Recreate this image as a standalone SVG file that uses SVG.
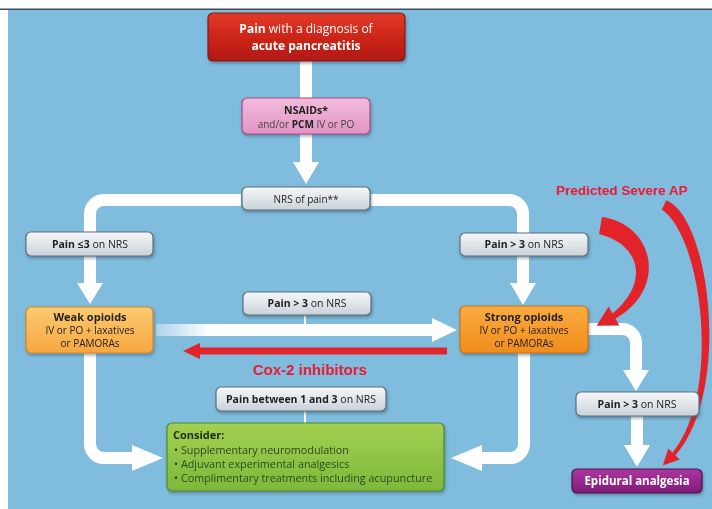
<svg xmlns="http://www.w3.org/2000/svg" width="712" height="509" viewBox="0 0 712 509">
<defs>
<style>
.t{font-family:"Open Sans","Noto Sans",sans-serif;fill:#222;text-anchor:middle}
.b{font-weight:bold}
.w{fill:#fff}
.red{font-family:"Liberation Sans",Arial,sans-serif;font-weight:bold;fill:#e3203a}
.gray{fill:url(#gGray);stroke:#5f707a;stroke-width:1.2}
.con{stroke:#fff;stroke-width:12;fill:none}
.head{fill:#fff}
.thin{stroke:#fff;stroke-width:2;fill:none}
</style>
<linearGradient id="gGray" x1="0" y1="0" x2="0" y2="1"><stop offset="0" stop-color="#f6f8fa"/><stop offset="1" stop-color="#c9d2d8"/></linearGradient>
<linearGradient id="gRed" x1="0" y1="0" x2="0" y2="1"><stop offset="0" stop-color="#e23a28"/><stop offset="0.6" stop-color="#c82216"/><stop offset="1" stop-color="#b01a12"/></linearGradient>
<linearGradient id="gPink" x1="0" y1="0" x2="0" y2="1"><stop offset="0" stop-color="#f2bcdc"/><stop offset="1" stop-color="#e294c4"/></linearGradient>
<linearGradient id="gWeak" x1="0" y1="0" x2="0" y2="1"><stop offset="0" stop-color="#fccb70"/><stop offset="1" stop-color="#f6a640"/></linearGradient>
<linearGradient id="gStrong" x1="0" y1="0" x2="0" y2="1"><stop offset="0" stop-color="#fbab40"/><stop offset="1" stop-color="#f08c1c"/></linearGradient>
<linearGradient id="gGreen" x1="0" y1="0" x2="0" y2="1"><stop offset="0" stop-color="#a2d052"/><stop offset="1" stop-color="#7eb83a"/></linearGradient>
<linearGradient id="gPurple" x1="0" y1="0" x2="0" y2="1"><stop offset="0" stop-color="#ac36a0"/><stop offset="1" stop-color="#801c7a"/></linearGradient>
<linearGradient id="fadeL" gradientUnits="userSpaceOnUse" x1="156" y1="0" x2="210" y2="0"><stop offset="0" stop-color="#fff" stop-opacity="0.35"/><stop offset="1" stop-color="#fff"/></linearGradient>
<filter id="sh" x="-10%" y="-10%" width="120%" height="130%"><feDropShadow dx="1" dy="2" stdDeviation="1.5" flood-color="#2a4a60" flood-opacity="0.45"/></filter>
</defs>
<rect x="0" y="0" width="712" height="509" fill="#fff"/>
<rect x="8" y="10" width="704" height="499" fill="#7fbcde"/>
<rect x="0" y="8.5" width="712" height="1.5" fill="#3d4d58"/>

<g id="connectors">
  <path class="con" d="M306,61 V99"/>
  <path class="con" d="M306,134 V164"/>
  <polygon class="head" points="293,162 319,162 306,184"/>
  <path class="con" d="M241,200 H104 A14,14 0 0 0 90,214 V233"/>
  <path class="con" d="M371,200 H509 A14,14 0 0 1 523,214 V233"/>
  <path class="con" d="M90,256 V285"/>
  <polygon class="head" points="77,283 103,283 90,304"/>
  <path class="con" d="M523,256 V285"/>
  <polygon class="head" points="510,283 536,283 523,305"/>
  <path d="M156,330 H434" stroke="url(#fadeL)" stroke-width="12" fill="none"/>
  <polygon class="head" points="432,318 432,342 457,330"/>
  <path class="thin" d="M305,315 V325"/>
  <path d="M447,351 H198" stroke="#e2232a" stroke-width="7" fill="none"/>
  <polygon points="200,343 200,359 183,351" fill="#e2232a"/>
  <path class="con" d="M90,353 V444 A14,14 0 0 0 104,458 H134"/>
  <polygon class="head" points="132,445 132,471 163,458"/>
  <path class="con" d="M524,353 V444 A14,14 0 0 1 510,458 H480"/>
  <polygon class="head" points="482,445 482,471 451,458"/>
  <path class="thin" d="M305,411 V423"/>
  <path class="con" d="M588,329 H622 A14,14 0 0 1 636,343 V372"/>
  <polygon class="head" points="623,370 649,370 636,391"/>
  <path class="con" d="M637,416 V447"/>
  <polygon class="head" points="624,445 650,445 637,467"/>
  <path d="M602,217 C656,225 667,290 615.5,318.6 L619.4,325.6 L596.6,325.8 L608.6,306.4 L612.5,313.4 C649,284 642,245 599,234 Z" fill="#e2232a"/>
  <path d="M666.2,200.5 C710,216 732,392 675.4,455.4 L679.7,459.6 L662.8,465.4 L668.3,448.4 L672.6,452.6 C722,392 702,236 661.8,209.5 Z" fill="#e2232a"/>
</g>

<g id="pain-diagnosis" filter="url(#sh)">
  <rect x="208" y="13" width="197" height="48" rx="5" fill="url(#gRed)" stroke="#861810" stroke-width="1.2"/>
  <text class="t w" x="306" y="33" font-size="12"><tspan class="b">Pain</tspan> with a diagnosis of</text>
  <text class="t w b" x="306" y="50" font-size="12">acute pancreatitis</text>
</g>
<g id="nsaids" filter="url(#sh)">
  <rect x="242" y="98" width="128" height="36" rx="5" fill="url(#gPink)" stroke="#a84a84" stroke-width="1.2"/>
  <text class="t b" x="306" y="114" font-size="10.5">NSAIDs*</text>
  <text class="t" x="306" y="128" font-size="10"><tspan fill="#444">and/or </tspan><tspan class="b">PCM</tspan><tspan fill="#444"> IV or PO</tspan></text>
</g>
<g id="nrs" filter="url(#sh)">
  <rect class="gray" x="242" y="187" width="128" height="23" rx="5"/>
  <text class="t" x="306" y="203" font-size="10" fill="#333">NRS of pain**</text>
</g>
<g id="pain-le3" filter="url(#sh)">
  <rect class="gray" x="26" y="232" width="127" height="24" rx="5"/>
  <text class="t" x="90" y="248" font-size="10.5"><tspan class="b">Pain ≤3</tspan> on NRS</text>
</g>
<g id="pain-gt3-right" filter="url(#sh)">
  <rect class="gray" x="460" y="233" width="128" height="23" rx="5"/>
  <text class="t" x="524" y="248" font-size="10.5"><tspan class="b">Pain &gt; 3</tspan> on NRS</text>
</g>
<g id="weak-opioids" filter="url(#sh)">
  <rect x="26" y="307" width="127" height="46" rx="5" fill="url(#gWeak)" stroke="#d08a2a" stroke-width="1.2"/>
  <text class="t b" x="90" y="321" font-size="11" fill="#2a1a10">Weak opioids</text>
  <text class="t" x="90" y="334" font-size="10" fill="#6a4a2a">IV or PO + laxatives</text>
  <text class="t" x="90" y="347" font-size="10" fill="#6a4a2a">or PAMORAs</text>
</g>
<g id="pain-gt3-middle" filter="url(#sh)">
  <rect class="gray" x="243" y="292" width="128" height="23" rx="5"/>
  <text class="t" x="307" y="307" font-size="10.5"><tspan class="b">Pain &gt; 3</tspan> on NRS</text>
</g>
<g id="strong-opioids" filter="url(#sh)">
  <rect x="460" y="306" width="128" height="47" rx="5" fill="url(#gStrong)" stroke="#c87414" stroke-width="1.2"/>
  <text class="t b" x="524" y="321" font-size="11" fill="#2a1a10">Strong opioids</text>
  <text class="t" x="524" y="334" font-size="10" fill="#6a4020">IV or PO + laxatives</text>
  <text class="t" x="524" y="347" font-size="10" fill="#6a4020">or PAMORAs</text>
</g>
<g id="cox2">
  <text class="red" x="310" y="375" font-size="15" text-anchor="middle">Cox-2 inhibitors</text>
</g>
<g id="predicted-severe">
  <text class="red" x="622" y="195" font-size="13.5" text-anchor="middle">Predicted Severe AP</text>
</g>
<g id="pain-between" filter="url(#sh)">
  <rect class="gray" x="216" y="387" width="170" height="24" rx="5"/>
  <text class="t" x="301" y="403" font-size="10.5"><tspan class="b">Pain between 1 and 3</tspan> on NRS</text>
</g>
<g id="consider" filter="url(#sh)">
  <rect x="167" y="423" width="277" height="68" rx="5" fill="url(#gGreen)" stroke="#508a24" stroke-width="1.2"/>
  <text x="173" y="439" font-size="11" font-family="Open Sans, Noto Sans, sans-serif" font-weight="bold" fill="#1e2a10">Consider:</text>
  <g font-family="Open Sans, Noto Sans, sans-serif" font-size="10.8" fill="#2a3a1a">
    <text x="174" y="454">• <tspan fill="#2a4a20">Supplementary neuromodulation</tspan></text>
    <text x="174" y="468">• <tspan fill="#2a4a20">Adjuvant experimental analgesics</tspan></text>
    <text x="174" y="482">• <tspan fill="#2a4a20">Complimentary treatments including acupuncture</tspan></text>
  </g>
</g>
<g id="pain-gt3-bottom" filter="url(#sh)">
  <rect class="gray" x="576" y="392" width="123" height="24" rx="5"/>
  <text class="t" x="637" y="408" font-size="10.5"><tspan class="b">Pain &gt; 3</tspan> on NRS</text>
</g>
<g id="epidural" filter="url(#sh)">
  <rect x="572" y="469" width="130" height="24" rx="5" fill="url(#gPurple)" stroke="#4e104a" stroke-width="1.2"/>
  <text class="t w b" x="637" y="485" font-size="11.5">Epidural analgesia</text>
</g>
</svg>
